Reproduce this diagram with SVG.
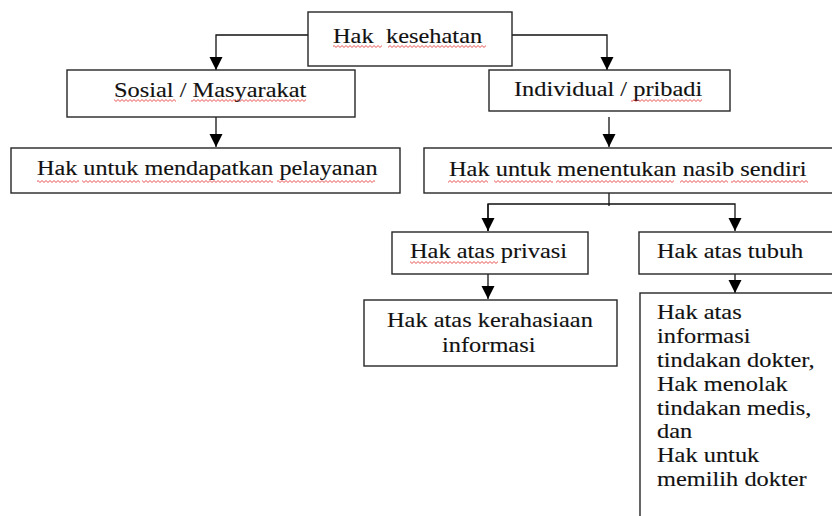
<svg xmlns="http://www.w3.org/2000/svg" width="832" height="516" viewBox="0 0 832 516">
<defs>
<style>
.box{fill:#fff;stroke:#262626;stroke-width:1.4}
.t{font-family:"Liberation Serif","Times New Roman",serif;font-size:20px;fill:#111;stroke:#111;stroke-width:0.12}
.c{fill:none;stroke:#111;stroke-width:1.3}
.w{fill:url(#wave)}
</style>
<pattern id="wave" patternUnits="userSpaceOnUse" width="4" height="3">
<path d="M-1 1.5 L0 2.5 L2 0.5 L4 2.5 L5 1.5" fill="none" stroke="#e02020" stroke-width="0.8"/>
</pattern>
<marker id="ah" markerUnits="userSpaceOnUse" markerWidth="14" markerHeight="14" refX="13" refY="6.5" orient="auto">
<path d="M0,0 L13,6.5 L0,13 Z" fill="#000"/>
</marker>
</defs>
<g id="connectors">
<polyline class="c" points="308,35 216,35 216,70" marker-end="url(#ah)"/>
<polyline class="c" points="512,35 607,35 607,70" marker-end="url(#ah)"/>
<line class="c" x1="216" y1="117" x2="216" y2="147" marker-end="url(#ah)"/>
<line class="c" x1="609" y1="117" x2="609" y2="147" marker-end="url(#ah)"/>
<line class="c" x1="609" y1="193" x2="609" y2="206"/>
<polyline class="c" points="488,231 488,204 735,204 735,231" marker-end="url(#ah)"/>
<line class="c" x1="488" y1="204" x2="488" y2="231" marker-end="url(#ah)"/>
<line class="c" x1="488" y1="274" x2="488" y2="299" marker-end="url(#ah)"/>
<line class="c" x1="735" y1="272" x2="735" y2="293" marker-end="url(#ah)"/>
</g>
<g id="hak-kesehatan">
<rect class="box" x="308" y="12" width="204" height="54"/>
<text class="t" transform="translate(333,43) scale(1.22,1)" font-size="24">Hak</text>
<text class="t" transform="translate(386,43) scale(1.22,1)">kesehatan</text>
<rect class="w" x="333" y="45" width="49" height="3"/>
<rect class="w" x="388" y="45" width="98" height="3"/>
</g>
<g id="sosial">
<rect class="box" x="67" y="70" width="288" height="47"/>
<text class="t" transform="translate(114,97) scale(1.22,1)">Sosial / Masyarakat</text>
<rect class="w" x="114" y="99" width="62" height="3"/>
<rect class="w" x="191" y="99" width="115" height="3"/>
</g>
<g id="pelayanan">
<rect class="box" x="11" y="148" width="389" height="45"/>
<text class="t" transform="translate(37,175) scale(1.21,1)">Hak untuk mendapatkan pelayanan</text>
<rect class="w" x="37" y="180" width="42" height="3"/>
<rect class="w" x="82" y="180" width="58" height="3"/>
<rect class="w" x="142" y="180" width="131" height="3"/>
<rect class="w" x="277" y="180" width="98" height="3"/>
</g>
<g id="individual">
<rect class="box" x="489" y="70" width="241" height="41"/>
<text class="t" transform="translate(514,96) scale(1.22,1)">Individual / pribadi</text>
<rect class="w" x="631" y="99" width="71" height="3"/>
</g>
<g id="menentukan">
<rect class="box" x="424" y="148" width="420" height="45"/>
<text class="t" transform="translate(449,176) scale(1.22,1)">Hak untuk menentukan nasib sendiri</text>
<rect class="w" x="448" y="180" width="40" height="3"/>
<rect class="w" x="494" y="180" width="59" height="3"/>
<rect class="w" x="556" y="180" width="118" height="3"/>
<rect class="w" x="680" y="180" width="48" height="3"/>
<rect class="w" x="731" y="180" width="77" height="3"/>
</g>
<g id="privasi">
<rect class="box" x="392" y="232" width="196" height="42"/>
<text class="t" transform="translate(410,258) scale(1.22,1)">Hak atas privasi</text>
<rect class="w" x="410" y="261" width="88" height="3"/>
</g>
<g id="tubuh">
<rect class="box" x="639" y="232" width="205" height="42"/>
<text class="t" transform="translate(657,258) scale(1.22,1)">Hak atas tubuh</text>
</g>
<g id="kerahasiaan">
<rect class="box" x="364" y="300" width="253" height="66"/>
<text class="t" transform="translate(387,327) scale(1.22,1)">Hak atas kerahasiaan</text>
<text class="t" transform="translate(442,352) scale(1.22,1)">informasi</text>
</g>
<g id="tubuh-detail">
<rect class="box" x="640" y="293" width="204" height="240"/>
<text class="t" transform="translate(657,319) scale(1.22,1)">Hak atas</text>
<text class="t" transform="translate(657,343) scale(1.22,1)">informasi</text>
<text class="t" transform="translate(657,367) scale(1.22,1)">tindakan dokter,</text>
<text class="t" transform="translate(657,391) scale(1.22,1)">Hak menolak</text>
<text class="t" transform="translate(657,415) scale(1.22,1)">tindakan medis,</text>
<text class="t" transform="translate(657,438) scale(1.22,1)">dan</text>
<text class="t" transform="translate(657,462) scale(1.22,1)">Hak untuk</text>
<text class="t" transform="translate(657,486) scale(1.22,1)">memilih dokter</text>
</g>
</svg>
